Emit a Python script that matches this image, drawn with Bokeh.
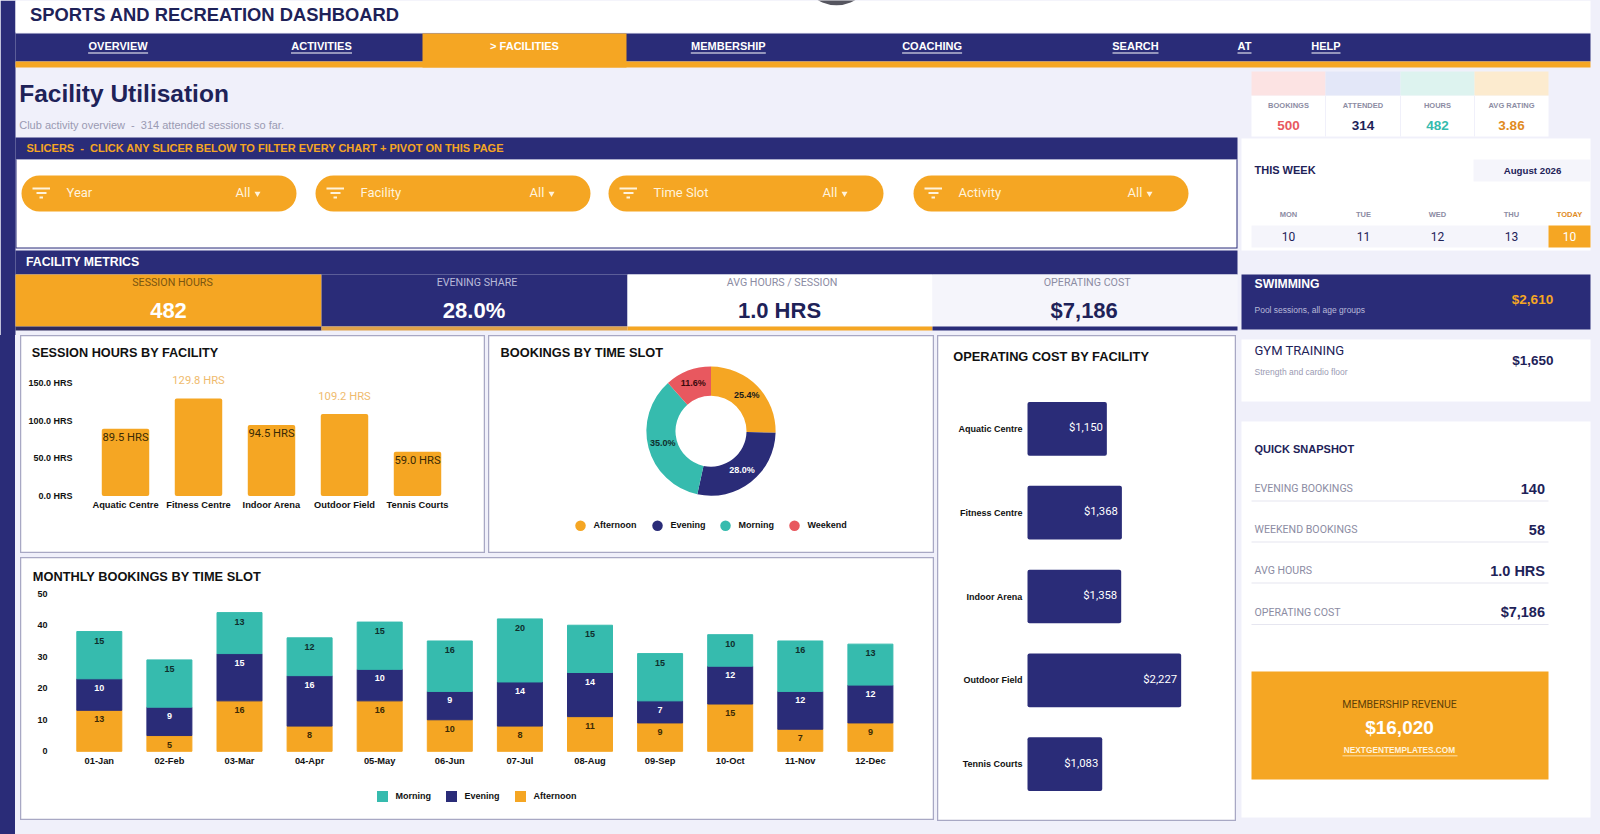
import numpy as np
from bokeh.core.properties import value
from bokeh.embed import file_html
from bokeh.layouts import column, row
from bokeh.models import (ColumnDataSource, FixedTicker, LinearAxis, PrintfTickFormatter,
                          Range1d, Spacer)
from bokeh.plotting import figure
from bokeh.resources import INLINE

# ---------- data ----------
facilities = ["Aquatic Centre", "Fitness Centre", "Indoor Arena", "Outdoor Field", "Tennis Courts"]
session_hours = [89.5, 129.8, 94.5, 109.2, 59.0]
operating_cost = [1150, 1368, 1358, 2227, 1083]
slots = ["Afternoon", "Evening", "Morning", "Weekend"]
slot_share = [25.4, 28.0, 35.0, 11.6]
months = ["01-Jan", "02-Feb", "03-Mar", "04-Apr", "05-May", "06-Jun",
          "07-Jul", "08-Aug", "09-Sep", "10-Oct", "11-Nov", "12-Dec"]
morning = [15, 15, 13, 12, 15, 16, 20, 15, 15, 10, 16, 13]
evening = [10, 9, 15, 16, 10, 9, 14, 14, 7, 12, 12, 12]
afternoon = [13, 5, 16, 8, 16, 10, 8, 11, 9, 15, 7, 9]
hour_ticks = [0, 50, 100, 150]
month_ticks = [0, 10, 20, 30, 40, 50]
nav_items = ["OVERVIEW", "ACTIVITIES", "> FACILITIES", "MEMBERSHIP", "COACHING", "SEARCH", "AT", "HELP"]
slicers = ["Year", "Facility", "Time Slot", "Activity"]
mini_labels = ["BOOKINGS", "ATTENDED", "HOURS", "AVG RATING"]
mini_values = ["500", "314", "482", "3.86"]
kpi_labels = ["SESSION HOURS", "EVENING SHARE", "AVG HOURS / SESSION", "OPERATING COST"]
kpi_values = ["482", "28.0%", "1.0 HRS", "$7,186"]
week_days = ["MON", "TUE", "WED", "THU", "TODAY"]
week_dates = ["10", "11", "12", "13", "10"]
snapshot_labels = ["EVENING BOOKINGS", "WEEKEND BOOKINGS", "AVG HOURS", "OPERATING COST"]
snapshot_values = ["140", "58", "1.0 HRS", "$7,186"]

# ---------- style ----------
NAVY = "#2A2C78"
INK = "#1E2258"
ORANGE = "#F5A623"
TEAL = "#36BBAE"
RED = "#E8585F"
LAV = "#F0F0FA"
PALE = "#F5F5FB"
BORDER = "#A8A8C4"
GREY = "#8C8CA3"
SANS = "Liberation Sans"
ROBOTO = "Roboto"


def T(p, x, y, s, size=10, color="#000000", bold=False, align="left", font=SANS):
    p.text(x=[x], y=[y], text=[s], y_offset=-1, text_font=value(font), text_font_size=f"{size}px",
           text_font_style="bold" if bold else "normal", text_color=color,
           text_align=align, text_baseline="middle")


def Q(p, l, r, t, b, color, radius=0):
    kw = {"border_radius": radius} if radius else {}
    p.quad(left=[l], right=[r], top=[t], bottom=[b], fill_color=color, line_color=None, **kw)


def page_fig(x0, x1, y0, y1):
    p = figure(width=x1 - x0, height=y1 - y0, x_range=Range1d(x0, x1), y_range=Range1d(y1, y0),
               min_border=0, x_axis_location=None, y_axis_location=None, toolbar_location=None,
               output_backend="svg", outline_line_color=None, background_fill_color=LAV,
               border_fill_color=LAV)
    p.xgrid.visible = False
    p.ygrid.visible = False
    return p


def chart_fig(x0, x1, y0, y1, xz, xk, yz, yk):
    """Panel whose plot frame is the whole panel; zero and scale of each axis given in page pixels."""
    p = figure(width=x1 - x0, height=y1 - y0,
               x_range=Range1d((x0 - xz) / xk, (x1 - xz) / xk),
               y_range=Range1d((yz - y1) / yk, (yz - y0) / yk),
               min_border=0, x_axis_location=None, y_axis_location=None, toolbar_location=None,
               output_backend="svg", outline_line_color=BORDER, outline_line_width=1.5,
               background_fill_color="white", border_fill_color="white")
    p.xgrid.visible = False
    p.ygrid.visible = False
    fx = lambda px: (px - xz) / xk
    fy = lambda py: (yz - py) / yk
    return p, fx, fy


def style_axis(ax, size=9.3, standoff=4):
    ax.axis_line_color = None
    ax.major_tick_line_color = None
    ax.minor_tick_line_color = None
    ax.major_tick_out = 0
    ax.major_tick_in = 0
    ax.major_label_text_font = SANS
    ax.major_label_text_font_size = f"{size}px"
    ax.major_label_text_font_style = "bold"
    ax.major_label_text_color = "#111111"
    ax.major_label_standoff = standoff


# ---------- top band (page y 0..335) ----------
top = page_fig(0, 1600, 0, 335)
Q(top, 0, 15, 0, 335, NAVY)
Q(top, 15, 1590, 0, 32, "white")
top.circle(x=[836], y=[-32], radius=36.8, fill_color="#55555F", line_color=None)
T(top, 29.5, 14.5, "SPORTS AND RECREATION DASHBOARD", 18.35, INK, True)
Q(top, 15, 1590, 33, 61, NAVY)
Q(top, 15, 1590, 61, 67, ORANGE)
Q(top, 422, 626, 33, 67, ORANGE)
nav_centers = [117.6, 321, 524, 727.8, 931.6, 1135, 1244, 1325.5]
nav_widths = [60, 61, 0, 75, 60, 46, 14, 29]
for name, cx, w in zip(nav_items, nav_centers, nav_widths):
    T(top, cx, 46.5, name, 11, "white", True, "center")
    if w:
        Q(top, cx - w / 2, cx + w / 2, 52, 53, "white")

T(top, 18.7, 94, "Facility Utilisation", 24.5, INK, True)
T(top, 18.7, 125, "Club activity overview\u00a0\u00a0-\u00a0\u00a0314 attended sessions so far.", 11, "#9A9AB2")

# mini KPI strip
mini_x = [1251, 1325, 1400, 1474, 1548]
mini_fill = ["#FCE3E3", "#E3E7F8", "#DDF3EF", "#FCEBCF"]
mini_col = [RED, INK, TEAL, "#E08A1E"]
Q(top, 1251, 1548, 95, 136, "white")
for i in range(4):
    Q(top, mini_x[i], mini_x[i + 1], 71, 95, mini_fill[i])
    cx = (mini_x[i] + mini_x[i + 1]) / 2
    T(top, cx, 105.5, mini_labels[i], 7.5, GREY, True, "center")
    T(top, cx, 125.5, mini_values[i], 13.5, mini_col[i], True, "center")
    if i:
        Q(top, mini_x[i] - 0.5, mini_x[i] + 0.5, 95, 136, LAV)

# slicers
Q(top, 15, 1237, 137, 159, NAVY)
T(top, 26, 148, "SLICERS\u00a0\u00a0-\u00a0\u00a0CLICK ANY SLICER BELOW TO FILTER EVERY CHART + PIVOT ON THIS PAGE", 11, ORANGE, True)
Q(top, 15, 1237, 159, 248, NAVY)
Q(top, 16, 1236, 159, 247, "white")
pill_left = [21, 315, 608, 913]
for name, l in zip(slicers, pill_left):
    Q(top, l, l + 275, 175, 211, ORANGE, 18)
    Q(top, l + 11, l + 28.5, 187, 189, "#FFF3DC")
    Q(top, l + 15, l + 25, 191.5, 193.5, "#FFF3DC")
    Q(top, l + 18, l + 21.5, 196, 198, "#FFF3DC")
    T(top, l + 45, 193, name, 13, "#FFF3DC", False, "left", ROBOTO)
    T(top, l + 214, 193, "All", 13, "#FFF3DC", False, "left", ROBOTO)
    top.scatter(x=[l + 236], y=[193], marker="inverted_triangle", size=6, fill_color="#FFF3DC", line_color=None)

# metrics
Q(top, 15, 1237, 250, 274, NAVY)
T(top, 25.5, 262, "FACILITY METRICS", 12.3, "white", True)
card_x = [15, 321, 627, 932, 1237]
card_fill = [ORANGE, NAVY, "white", PALE]
card_strip = ["#2F2A5C", "#E0A24A", ORANGE, NAVY]
card_lab = ["#7A5510", "#B9BAD8", GREY, GREY]
card_val = ["white", "white", INK, INK]
lab_cx = [172, 476.5, 781.5, 1086.7]
val_cx = [168, 473.5, 779, 1083.7]
for i in range(4):
    Q(top, card_x[i], card_x[i + 1], 274, 326, card_fill[i])
    Q(top, card_x[i], card_x[i + 1], 326, 330, card_strip[i])
    T(top, lab_cx[i], 283, kpi_labels[i], 10.7, card_lab[i], False, "center", ROBOTO)
    T(top, val_cx[i], 310.5, kpi_values[i], 22, card_val[i], True, "center")

# this week
Q(top, 1241, 1590, 138, 250, "white")
T(top, 1254, 170, "THIS WEEK", 11, INK, True)
Q(top, 1473, 1590, 159, 181, PALE)
T(top, 1532, 170.5, "August 2026", 9.7, INK, True, "center")
Q(top, 1251, 1548, 225, 247, PALE)
Q(top, 1548, 1590, 225, 247, ORANGE)
day_cx = [1288, 1363, 1437, 1511, 1569]
for i in range(5):
    T(top, day_cx[i], 214.5, week_days[i], 7.5, "#E08A1E" if i == 4 else GREY, True, "center")
    T(top, day_cx[i], 236.5, week_dates[i], 12, "white" if i == 4 else INK, False, "center", ROBOTO)

# swimming
Q(top, 1241, 1590, 274, 329, NAVY)
T(top, 1254, 284, "SWIMMING", 12.2, "white", True)
T(top, 1254, 310, "Pool sessions, all age groups", 8.5, "#B9BAD8")
T(top, 1532, 300, "$2,610", 13.5, ORANGE, True, "center")

# ---------- session hours ----------
c1, fx1, fy1 = chart_fig(20, 485, 335, 553, 125, 73, 495.5, 112.7 / 150)
src1 = ColumnDataSource(dict(
    x=list(range(len(facilities))), y=session_hours,
    label=[f"{v:.1f} HRS" for v in session_hours],
    off=[-17.5 if v > 100 else 9 for v in session_hours],
    col=["#EFBB6E" if v > 100 else "#3A2A05" for v in session_hours]))
c1.vbar(x="x", top="y", width=0.65, bottom=0, source=src1, fill_color=ORANGE, line_color=None, border_radius=2)
c1.text(x="x", y="y", text="label", y_offset="off", text_color="col", source=src1, text_font=value(ROBOTO),
        text_font_size="11.2px", text_align="center", text_baseline="middle")
ax = LinearAxis(fixed_location=0, ticker=FixedTicker(ticks=list(range(5))),
                major_label_overrides=dict(enumerate(facilities)))
style_axis(ax, 9.3, 4)
c1.add_layout(ax, "below")
ay = LinearAxis(fixed_location=fx1(75), ticker=FixedTicker(ticks=hour_ticks),
                formatter=PrintfTickFormatter(format="%.1f HRS"))
style_axis(ay, 9, 3)
c1.add_layout(ay, "left")
T(c1, fx1(31.2), fy1(353), "SESSION HOURS BY FACILITY", 12.7, "#111111", True)

# ---------- donut ----------
c2, fx2, fy2 = chart_fig(488, 934, 335, 553, 710.5, 1, 430.7, 1)
share = np.array(slot_share) / sum(slot_share)
edges = np.concatenate([[0], np.cumsum(share)])
start = np.pi / 2 - 2 * np.pi * edges[:-1]
end = np.pi / 2 - 2 * np.pi * edges[1:]
mid = (start + end) / 2
slot_colors = [ORANGE, NAVY, TEAL, RED]
src2 = ColumnDataSource(dict(start=start, end=end, col=slot_colors, lx=50 * np.cos(mid), ly=50 * np.sin(mid),
                             label=[f"{v:.1f}%" for v in slot_share],
                             tc=["#1A1A1A", "white", "#0F2E2C", "#3A0A0C"]))
c2.annular_wedge(x=0, y=0, inner_radius=35.5, outer_radius=64.6, start_angle="start", end_angle="end",
                 direction="clock", fill_color="col", line_color=None, source=src2)
c2.text(x="lx", y="ly", text="label", y_offset=-1, text_color="tc", source=src2, text_font=value(SANS),
        text_font_size="9px", text_font_style="bold", text_align="center", text_baseline="middle")
T(c2, fx2(500), fy2(353), "BOOKINGS BY TIME SLOT", 12.8, "#111111", True)
leg2_x = [580, 657, 725, 794]
for name, col, lx in zip(slots, slot_colors, leg2_x):
    c2.scatter(x=[fx2(lx)], y=[fy2(525.3)], marker="circle", size=10.5, fill_color=col, line_color=None)
    T(c2, fx2(lx + 13), fy2(525.8), name, 9, "#111111", True)

# ---------- monthly stacked ----------
c3, fx3, fy3 = chart_fig(20, 934, 557, 820, 98.8, 70.1, 750.8, 3.152)
src3 = ColumnDataSource(dict(x=list(range(len(months))), morning=morning, evening=evening, afternoon=afternoon))
stack_names = ["afternoon", "evening", "morning"]
stack_cols = [ORANGE, NAVY, TEAL]
stack_text = ["#3A2A05", "white", "#0F2E2C"]
c3.vbar_stack(stack_names, x="x", width=45 / 70.1, color=stack_cols, source=src3)
base = np.zeros(len(months))
for name, tc in zip(stack_names, stack_text):
    vals = np.array(src3.data[name])
    base = base + vals
    c3.text(x=src3.data["x"], y=base.tolist(), text=[str(v) for v in vals], y_offset=9, text_color=tc,
            text_font=value(SANS), text_font_size="9px", text_font_style="bold", text_align="center",
            text_baseline="middle")
ax = LinearAxis(fixed_location=0, ticker=FixedTicker(ticks=list(range(12))),
                major_label_overrides=dict(enumerate(months)))
style_axis(ax, 9.3, 5)
c3.add_layout(ax, "below")
ay = LinearAxis(fixed_location=fx3(50), ticker=FixedTicker(ticks=month_ticks))
style_axis(ay, 9, 3)
c3.add_layout(ay, "left")
T(c3, fx3(32.3), fy3(576.5), "MONTHLY BOOKINGS BY TIME SLOT", 12.8, "#111111", True)
for name, col, lx in zip(["Morning", "Evening", "Afternoon"], [TEAL, NAVY, ORANGE], [382, 451, 520]):
    c3.scatter(x=[fx3(lx)], y=[fy3(796)], marker="square", size=11, fill_color=col, line_color=None)
    T(c3, fx3(lx + 13), fy3(796.5), name, 9, "#111111", True)

# ---------- operating cost ----------
c4 = figure(width=299, height=486, x_range=Range1d((937 - 1027) / 0.069, (1236 - 1027) / 0.069),
            y_range=Range1d((821 - 428.4) / 83.8, (335 - 428.4) / 83.8),
            min_border=0, x_axis_location=None, y_axis_location=None, toolbar_location=None,
            output_backend="svg", outline_line_color=BORDER, outline_line_width=1.5,
            background_fill_color="white", border_fill_color="white")
c4.xgrid.visible = False
c4.ygrid.visible = False
src4 = ColumnDataSource(dict(y=list(range(5)), v=operating_cost, label=[f"${v:,}" for v in operating_cost]))
c4.hbar(y="y", right="v", left=0, height=53.7 / 83.8, source=src4, fill_color=NAVY, line_color=None, border_radius=2)
c4.text(x="v", y="y", text="label", x_offset=-4, y_offset=-1, source=src4, text_color="white",
        text_font=value(ROBOTO), text_font_size="11.3px", text_align="right", text_baseline="middle")
ay = LinearAxis(fixed_location=0, ticker=FixedTicker(ticks=list(range(5))),
                major_label_overrides=dict(enumerate(facilities)))
style_axis(ay, 9, 5)
c4.add_layout(ay, "left")
T(c4, (952.7 - 1027) / 0.069, (356.5 - 428.4) / 83.8, "OPERATING COST BY FACILITY", 12.8, "#111111", True)

# ---------- right column ----------
rt = page_fig(1236, 1600, 335, 834)
Q(rt, 1241, 1590, 339, 401, "white")
T(rt, 1254, 351, "GYM TRAINING", 13, INK, False, "left", ROBOTO)
T(rt, 1254, 372, "Strength and cardio floor", 8.5, "#9A9AB2")
T(rt, 1553, 361, "$1,650", 13.5, INK, True, "right")
Q(rt, 1241, 1590, 421, 817, "white")
T(rt, 1254, 449, "QUICK SNAPSHOT", 11, INK, True)
snap_y = [489, 530, 571, 612.5]
for lab, val, y in zip(snapshot_labels, snapshot_values, snap_y):
    T(rt, 1254, y, lab, 10.6, GREY, False, "left", ROBOTO)
    T(rt, 1544.5, y, val, 14.5, INK, True, "right")
    Q(rt, 1251, 1548, y + 11, y + 12, "#E6E6F0")
Q(rt, 1251, 1548, 671, 779, ORANGE)
T(rt, 1399, 704.5, "MEMBERSHIP REVENUE", 10.5, "#5E3F08", False, "center", ROBOTO)
T(rt, 1399, 727.5, "$16,020", 19, "white", True, "center")
T(rt, 1399, 750, "NEXTGENTEMPLATES.COM", 8.3, "#FFF3DC", True, "center")
Q(rt, 1342, 1457, 755, 755.8, "#FFF3DC")

# ---------- assemble ----------
left_gutter = row(Spacer(width=15, height=499, styles={"background-color": NAVY}),
                  Spacer(width=5, height=499), spacing=0)
col_a = column(row(c1, Spacer(width=3, height=218), c2, spacing=0),
               Spacer(width=914, height=4), c3, Spacer(width=914, height=14), spacing=0)
col_b = column(c4, Spacer(width=299, height=13), spacing=0)
lower = row(left_gutter, col_a, Spacer(width=3, height=499), col_b, rt, spacing=0)
page = column(top, lower, spacing=0, styles={"background-color": LAV})

open("out.html", "w").write(file_html(page, INLINE))
